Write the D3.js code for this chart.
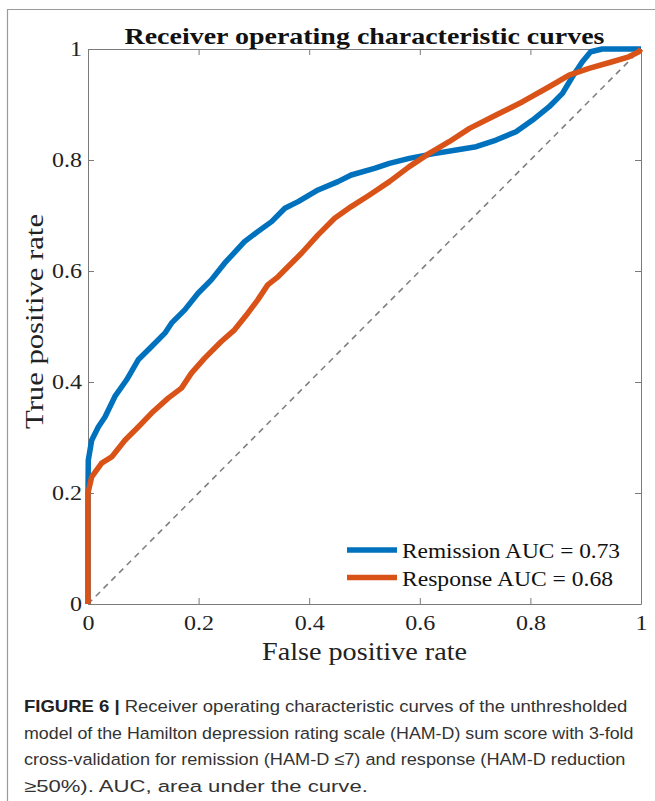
<!DOCTYPE html>
<html>
<head>
<meta charset="utf-8">
<script src="https://cdn.jsdelivr.net/npm/d3@7"></script>
<style>
  html, body { margin: 0; padding: 0; background: #fff; }
  svg { display: block; }
  .tick text { font-family: "Liberation Serif", "DejaVu Serif", serif; font-size: 20px; fill: #222; }
  .tick line { stroke: #7a7a7a; }
  .domain { stroke: #7a7a7a; }
</style>
</head>
<body>
<svg id="chart" width="655" height="801"></svg>
<script>
// ROC curves: [false positive rate, true positive rate]
const remission = [
  [0, 0], [0, 0.2], [0.0005, 0.259], [0.0067, 0.295], [0.0186, 0.319], [0.0307, 0.337],
  [0.0487, 0.374], [0.0699, 0.404], [0.0908, 0.440], [0.115, 0.464], [0.139, 0.488],
  [0.151, 0.506], [0.175, 0.530], [0.199, 0.560], [0.223, 0.584], [0.247, 0.614],
  [0.283, 0.653], [0.307, 0.671], [0.332, 0.689], [0.356, 0.713], [0.380, 0.725],
  [0.416, 0.746], [0.452, 0.761], [0.476, 0.773], [0.518, 0.785], [0.545, 0.794],
  [0.581, 0.803], [0.623, 0.811], [0.666, 0.818], [0.702, 0.824], [0.738, 0.836],
  [0.774, 0.851], [0.804, 0.872], [0.834, 0.896], [0.858, 0.920], [0.876, 0.950],
  [0.894, 0.977], [0.909, 0.995], [0.930, 1.0], [1, 1]
];
const response = [
  [0, 0], [0, 0.2], [0.0067, 0.229], [0.0247, 0.254], [0.0428, 0.265], [0.0668, 0.295],
  [0.0908, 0.319], [0.115, 0.344], [0.145, 0.371], [0.169, 0.389], [0.187, 0.416],
  [0.211, 0.443], [0.241, 0.473], [0.265, 0.494], [0.289, 0.524], [0.307, 0.548],
  [0.325, 0.575], [0.344, 0.590], [0.362, 0.608], [0.386, 0.632], [0.416, 0.665],
  [0.446, 0.695], [0.476, 0.716], [0.509, 0.737], [0.545, 0.761], [0.581, 0.788],
  [0.617, 0.812], [0.653, 0.833], [0.690, 0.857], [0.738, 0.881], [0.786, 0.905],
  [0.834, 0.932], [0.870, 0.953], [0.906, 0.965], [0.948, 0.977], [0.978, 0.986],
  [0.996, 0.995], [1, 1]
];
const chance = [[0, 0], [1, 1]];
const ticks = [0, 0.2, 0.4, 0.6, 0.8, 1];
const series = [
  { name: "Remission AUC = 0.73", values: remission, color: "#0072BD", width: 218 },
  { name: "Response AUC = 0.68", values: response, color: "#D95319", width: 211 }
];
const captionLines = [
  [["FIGURE 6 |", true], [" Receiver operating characteristic curves of the unthresholded", false]],
  [["model of the Hamilton depression rating scale (HAM-D) sum score with 3-fold", false]],
  [["cross-validation for remission (HAM-D \u22647) and response (HAM-D reduction", false]],
  [["\u226550%). AUC, area under the curve.", false]]
];
const captionWidths = [604, 610, 602, 344];

const svg = d3.select("#chart");
const serif = '"Liberation Serif", "DejaVu Serif", serif';
const sans = '"Liberation Sans", Arial, sans-serif';

// the original serif face runs wider than Liberation Serif; stretch to the measured width
function stretch(sel, width) {
  sel.each(function(d, i) {
    const w = typeof width === "function" ? width.call(this, d, i) : width;
    d3.select(this).attr("textLength", w).attr("lengthAdjust", "spacingAndGlyphs");
  });
}

// figure frame
svg.append("path")
  .attr("d", "M7.5,801 V9.5 H655")
  .attr("fill", "none")
  .attr("stroke", "#9a9a9a")
  .attr("stroke-width", 1.2);

const margin = { top: 49, right: 14, bottom: 197, left: 88 };
const x = d3.scaleLinear().domain([0, 1]).range([margin.left, 655 - margin.right]);
const y = d3.scaleLinear().domain([0, 1]).range([801 - margin.bottom, margin.top]);
const fmt = d => String(d);

const xAxis = svg.append("g")
  .attr("transform", `translate(0,${y(0)})`)
  .call(d3.axisBottom(x).tickValues(ticks).tickFormat(fmt).tickSize(-6).tickPadding(12).tickSizeOuter(0));
svg.append("g")
  .attr("transform", `translate(0,${y(1)})`)
  .call(d3.axisTop(x).tickValues(ticks).tickFormat("").tickSize(-6).tickSizeOuter(0));
const yAxis = svg.append("g")
  .attr("transform", `translate(${x(0)},0)`)
  .call(d3.axisLeft(y).tickValues(ticks).tickFormat(fmt).tickSize(-6).tickPadding(6).tickSizeOuter(0));
svg.append("g")
  .attr("transform", `translate(${x(1)},0)`)
  .call(d3.axisRight(y).tickValues(ticks).tickFormat("").tickSize(-6).tickSizeOuter(0));

[xAxis, yAxis].forEach(g => stretch(g.selectAll(".tick text"), function() {
  return this.getComputedTextLength() * 1.2;
}));

const line = d3.line().x(d => x(d[0])).y(d => y(d[1]));

svg.append("path")
  .datum(chance)
  .attr("d", line)
  .attr("fill", "none")
  .attr("stroke", "#808080")
  .attr("stroke-width", 1.6)
  .attr("stroke-dasharray", "6,5");

svg.append("g")
  .selectAll("path")
  .data(series)
  .join("path")
  .attr("d", d => line(d.values))
  .attr("fill", "none")
  .attr("stroke", d => d.color)
  .attr("stroke-width", 5.5)
  .attr("stroke-linejoin", "round");

// legend
const legend = svg.append("g")
  .selectAll("g")
  .data(series)
  .join("g")
  .attr("transform", (d, i) => `translate(347,${550 + i * 27.5})`);
legend.append("line")
  .attr("x1", 0).attr("x2", 50)
  .attr("stroke", d => d.color)
  .attr("stroke-width", 5.5);
legend.append("text")
  .attr("x", 55)
  .attr("y", 8)
  .attr("font-family", serif)
  .attr("font-size", 21)
  .attr("fill", "#111")
  .text(d => d.name)
  .call(stretch, d => d.width);

svg.append("text")
  .attr("x", (x(0) + x(1)) / 2)
  .attr("y", 44)
  .attr("text-anchor", "middle")
  .attr("font-family", serif)
  .attr("font-weight", "bold")
  .attr("font-size", 24)
  .attr("fill", "#111")
  .text("Receiver operating characteristic curves")
  .call(stretch, 480);

svg.append("text")
  .attr("x", (x(0) + x(1)) / 2)
  .attr("y", 660)
  .attr("text-anchor", "middle")
  .attr("font-family", serif)
  .attr("font-size", 25)
  .attr("fill", "#222")
  .text("False positive rate")
  .call(stretch, 205);

svg.append("text")
  .attr("transform", `translate(43,${(y(0) + y(1)) / 2 - 5}) rotate(-90)`)
  .attr("text-anchor", "middle")
  .attr("font-family", serif)
  .attr("font-size", 25)
  .attr("fill", "#222")
  .text("True positive rate")
  .call(stretch, 215);

// caption lines, each scaled horizontally to its width in the original
const caption = svg.append("g")
  .selectAll("text")
  .data(captionLines)
  .join("text")
  .attr("font-family", sans)
  .attr("font-size", 16.5)
  .attr("fill", "#333");
caption.selectAll("tspan")
  .data(d => d)
  .join("tspan")
  .attr("font-weight", d => d[1] ? "bold" : null)
  .attr("fill", d => d[1] ? "#222" : null)
  .text(d => d[0]);
caption.attr("transform", function(d, i) {
  const sx = captionWidths[i] / this.getComputedTextLength();
  return `translate(24,${712 + i * 26.7}) scale(${sx},1)`;
});
</script>
</body>
</html>
